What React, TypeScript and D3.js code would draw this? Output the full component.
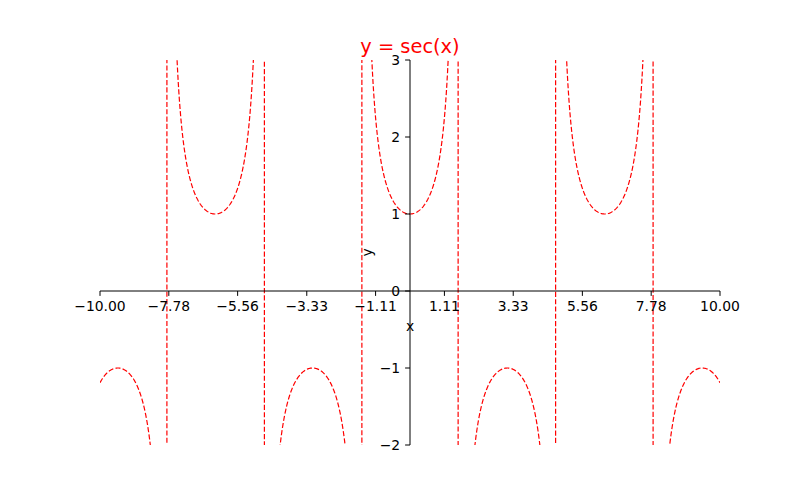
import React, { useRef, useEffect } from "react";
import * as d3 from "d3";

// chart content
const title = "y = sec(x)";
const xDomain = [-10, 10];
const yDomain = [-2, 3];
const xTicks = [-10, -7.78, -5.56, -3.33, -1.11, 1.11, 3.33, 5.56, 7.78, 10];
const xTickLabels = ["−10.00", "−7.78", "−5.56", "−3.33", "−1.11", "1.11", "3.33", "5.56", "7.78", "10.00"];
const yTicks = [-2, -1, 0, 1, 2, 3];
const yTickLabels = ["−2", "−1", "0", "1", "2", "3"];
const sampleCount = 1000;

const W = 800;
const H = 500;

const App: React.FC = () => {
  const ref = useRef<SVGSVGElement>(null);

  useEffect(() => {
    if (!ref.current) return;
    const margin = { top: 60, right: 80, bottom: 55, left: 100 };
    const width = W - margin.left - margin.right;
    const height = H - margin.top - margin.bottom;
    const font = "DejaVu Sans, sans-serif";

    const svg = d3.select(ref.current);
    svg.selectAll("*").remove();

    svg.append("rect").attr("width", W).attr("height", H).attr("fill", "white");

    const x = d3.scaleLinear().domain(xDomain).range([margin.left, margin.left + width]);
    const y = d3.scaleLinear().domain(yDomain).range([margin.top + height, margin.top]);

    svg
      .append("defs")
      .append("clipPath")
      .attr("id", "plot-clip")
      .append("rect")
      .attr("x", margin.left)
      .attr("y", margin.top)
      .attr("width", width)
      .attr("height", height);

    // y = sec(x), sampled like np.linspace
    const xs = d3.range(sampleCount).map((i) => xDomain[0] + ((xDomain[1] - xDomain[0]) * i) / (sampleCount - 1));
    const pts: [number, number][] = xs.map((v) => [v, 1 / Math.cos(v)]);

    const line = d3
      .line<[number, number]>()
      .x((d) => x(d[0]))
      .y((d) => Math.max(-1e5, Math.min(1e5, y(d[1]))));

    svg
      .append("path")
      .attr("clip-path", "url(#plot-clip)")
      .attr("d", line(pts))
      .attr("fill", "none")
      .attr("stroke", "#ff0000")
      .attr("stroke-width", 1.2)
      .attr("stroke-dasharray", "5.1,2.2");

    const x0 = x(0);
    const y0 = y(0);

    // x axis through y = 0
    const xAxis = svg.append("g");
    xAxis
      .append("line")
      .attr("x1", margin.left)
      .attr("x2", margin.left + width)
      .attr("y1", y0)
      .attr("y2", y0)
      .attr("stroke", "black")
      .attr("stroke-width", 1);
    xTicks.forEach((t, i) => {
      xAxis
        .append("line")
        .attr("x1", x(t))
        .attr("x2", x(t))
        .attr("y1", y0)
        .attr("y2", y0 + 4.9)
        .attr("stroke", "black")
        .attr("stroke-width", 1);
      xAxis
        .append("text")
        .attr("x", x(t))
        .attr("y", y0 + 9.8)
        .attr("dy", "0.76em")
        .attr("text-anchor", "middle")
        .attr("font-family", font)
        .attr("font-size", 13.9)
        .text(xTickLabels[i]);
    });

    // y axis through x = 0
    const yAxis = svg.append("g");
    yAxis
      .append("line")
      .attr("x1", x0)
      .attr("x2", x0)
      .attr("y1", margin.top)
      .attr("y2", margin.top + height)
      .attr("stroke", "black")
      .attr("stroke-width", 1);
    yTicks.forEach((t, i) => {
      yAxis
        .append("line")
        .attr("x1", x0)
        .attr("x2", x0 - 4.9)
        .attr("y1", y(t))
        .attr("y2", y(t))
        .attr("stroke", "black")
        .attr("stroke-width", 1);
      yAxis
        .append("text")
        .attr("x", x0 - 9.8)
        .attr("y", y(t))
        .attr("dy", "0.36em")
        .attr("text-anchor", "end")
        .attr("font-family", font)
        .attr("font-size", 13.9)
        .text(yTickLabels[i]);
    });

    // axis labels
    svg
      .append("text")
      .attr("x", x0)
      .attr("y", y0 + 29)
      .attr("dy", "0.76em")
      .attr("text-anchor", "middle")
      .attr("font-family", font)
      .attr("font-size", 13.9)
      .text("x");

    svg
      .append("text")
      .attr("transform", `translate(${x0 - 38},${margin.top + height / 2}) rotate(-90)`)
      .attr("text-anchor", "middle")
      .attr("font-family", font)
      .attr("font-size", 13.9)
      .text("y");

    // title
    svg
      .append("text")
      .attr("x", margin.left + width / 2)
      .attr("y", margin.top - 7.5)
      .attr("text-anchor", "middle")
      .attr("font-family", font)
      .attr("font-size", 19.4)
      .attr("fill", "#ff0000")
      .text(title);
  }, []);

  return (
    <div style={{ width: W, height: H }}>
      <svg ref={ref} width={W} height={H} style={{ display: "block", margin: -8 }}></svg>
    </div>
  );
};

export default App;
